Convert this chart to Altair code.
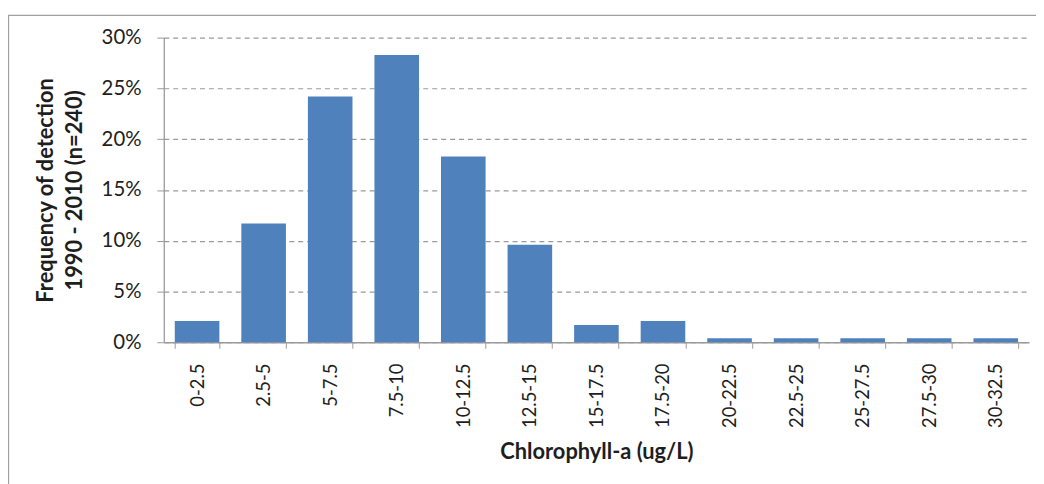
import altair as alt
import pandas as pd

bins = ["0-2.5", "2.5-5", "5-7.5", "7.5-10", "10-12.5", "12.5-15", "15-17.5",
        "17.5-20", "20-22.5", "22.5-25", "25-27.5", "27.5-30", "30-32.5"]
freq = [0.021, 0.117, 0.242, 0.283, 0.183, 0.096, 0.017,
        0.021, 0.004, 0.004, 0.004, 0.004, 0.004]
y_ticks = [0, 0.05, 0.10, 0.15, 0.20, 0.25, 0.30]

df = pd.DataFrame({"bin": bins, "freq": freq})

W, H = 872, 307
FONT = "Lato"
TXT = "#1e1e1e"
AX = "#9a9a9a"

bars = alt.Chart(df).mark_bar(color="#4F81BD").encode(
    x=alt.X("bin:N", sort=bins,
            scale=alt.Scale(paddingInner=0.33, paddingOuter=0.165),
            axis=alt.Axis(title="Chlorophyll-a (ug/L)", labelAngle=270,
                          tickBand="extent", ticks=True, tickSize=6,
                          tickColor=AX, domainColor=AX, domainWidth=1.3,
                          labelPadding=15, labelFont=FONT, labelFontSize=18.5,
                          labelColor=TXT, titleFont=FONT, titleFontSize=22,
                          titleFontWeight="bold", titleColor=TXT,
                          titleBaseline="top", titleY=100)),
    y=alt.Y("freq:Q", scale=alt.Scale(domain=[0, 0.3]),
            axis=alt.Axis(title=["Frequency of detection", "1990 - 2010 (n=240)"],
                          format=".0%", values=y_ticks, grid=True,
                          gridDash=[5, 4], gridColor=AX, gridWidth=1.2,
                          tickSize=7, tickColor=AX, domainColor=AX, domainWidth=1.3,
                          labelPadding=16, labelFont=FONT, labelFontSize=20.5,
                          labelColor=TXT, titleFont=FONT, titleFontSize=22,
                          titleFontWeight="bold", titleColor=TXT,
                          titleLineHeight=29, titleX=-107, titleBaseline="bottom")),
)

frame = alt.Chart(pd.DataFrame({"k": [0]})).mark_rect(
    fillOpacity=0, stroke="#a0a0a0", strokeWidth=1.3
).encode(
    x=alt.value(-156.5), x2=alt.value(W + 40),
    y=alt.value(-22.5), y2=alt.value(H + 300),
)

chart = alt.layer(bars, frame).properties(
    width=W, height=H,
    padding={"left": 157, "top": 28, "right": 7, "bottom": 141},
    autosize=alt.AutoSizeParams(type="none"),
).configure_view(stroke=None)

chart.save("out.html", embed_options={"renderer": "svg", "actions": False})
